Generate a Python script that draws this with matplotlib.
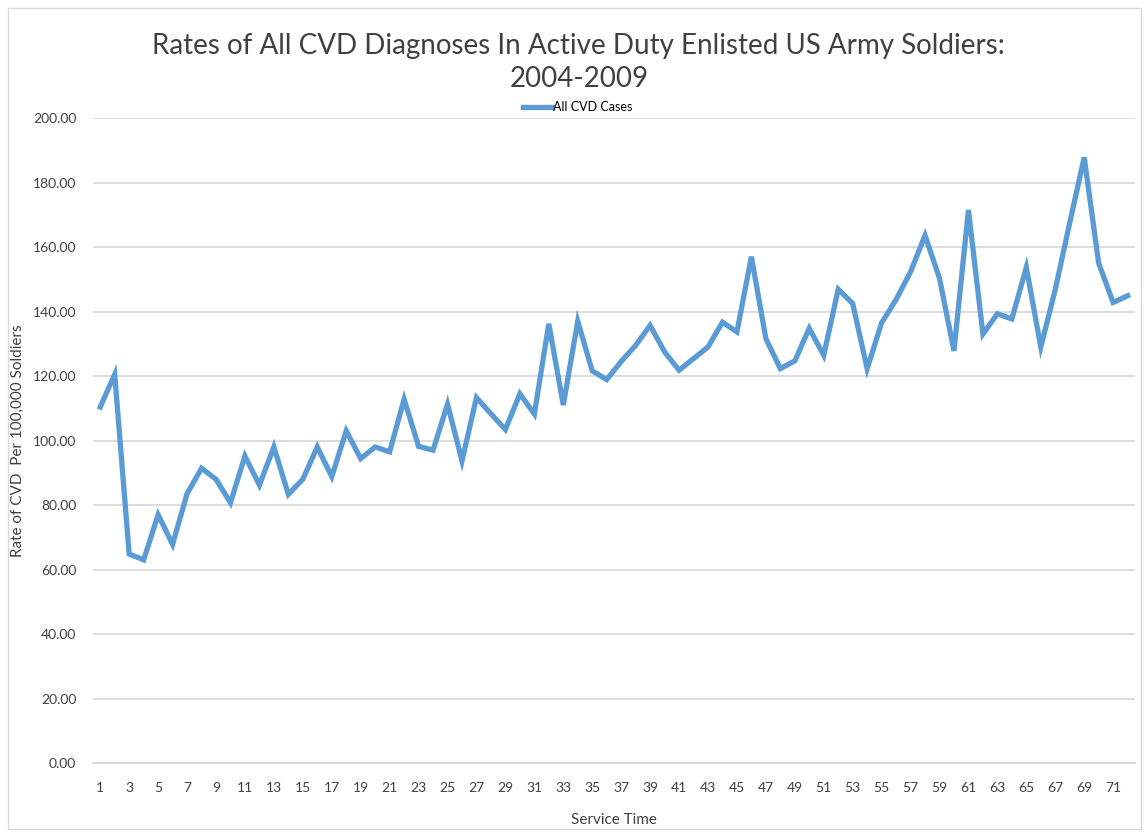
import matplotlib
matplotlib.use('Agg')
from matplotlib import pyplot as plt
from matplotlib.patches import Rectangle
import numpy as np

service_time = list(range(1, 73))
cvd_rates = [110.4, 120.5, 64.8, 63.0, 77.0, 67.8, 83.5, 91.4, 88.0, 80.7,
             95.2, 86.2, 98.0, 83.3, 88.0, 98.0, 88.8, 103.0, 94.4, 98.0,
             96.5, 112.8, 98.2, 97.0, 111.3, 93.7, 113.3, 108.3, 103.4, 114.5,
             108.2, 136.2, 111.0, 137.0, 121.6, 118.9, 124.5, 129.5, 135.7, 127.5,
             121.8, 125.4, 129.0, 136.7, 133.7, 157.0, 131.6, 122.3, 124.7, 134.8,
             126.4, 146.9, 142.5, 122.3, 136.5, 143.7, 152.3, 163.6, 150.3, 127.8,
             171.5, 133.0, 139.3, 137.7, 153.7, 129.0, 146.8, 167.5, 187.8, 155.0,
             142.8, 144.9]
y_ticks = [0, 20, 40, 60, 80, 100, 120, 140, 160, 180, 200]

plt.rcParams['font.family'] = ['Lato', 'DejaVu Sans']

fig = plt.figure(figsize=(11.44, 8.33), dpi=100)
ax = fig.add_axes([0.0813, 0.084, 0.9107, 0.7743])

ax.plot(service_time, cvd_rates, color='#5B9BD5', linewidth=3.8,
        solid_joinstyle='miter', label='All CVD Cases')

ax.set_xlim(0.5, 72.5)
ax.set_ylim(0, 200)
ax.set_yticks(y_ticks)
ax.set_yticklabels(['%.2f' % v for v in y_ticks], fontsize=10, color='#404040')
ax.set_xticks(service_time[::2])
ax.set_xticklabels([str(v) for v in service_time[::2]], fontsize=10, color='#404040')
ax.tick_params(axis='both', length=0)
ax.tick_params(axis='x', pad=14)
ax.tick_params(axis='y', pad=12)

ax.grid(axis='y', color='#D9D9D9', linewidth=1.3)
ax.set_axisbelow(True)
for side in ['top', 'right', 'left']:
    ax.spines[side].set_visible(False)
ax.spines['bottom'].set_color('#D9D9D9')
ax.spines['bottom'].set_linewidth(1.3)

ax.set_xlabel('Service Time', fontsize=11, color='#404040', labelpad=13)
ax.set_ylabel('Rate of CVD  Per 100,000 Soldiers', fontsize=11, color='#404040', labelpad=6)

fig.text(0.506, 0.925, 'Rates of All CVD Diagnoses In Active Duty Enlisted US Army Soldiers:\n2004-2009',
         ha='center', va='center', fontsize=20, color='#404040', linespacing=1.35)

handles, labels = ax.get_legend_handles_labels()
fig.legend(handles, labels, loc='center', bbox_to_anchor=(0.505, 0.871), frameon=False,
           fontsize=9, handlelength=2.3, handletextpad=0.1)

fig.patches.append(Rectangle((0.007, 0.005), 0.99, 0.985, transform=fig.transFigure,
                             fill=False, edgecolor='#D9D9D9', linewidth=1))

fig.savefig('out.png', dpi=100)
